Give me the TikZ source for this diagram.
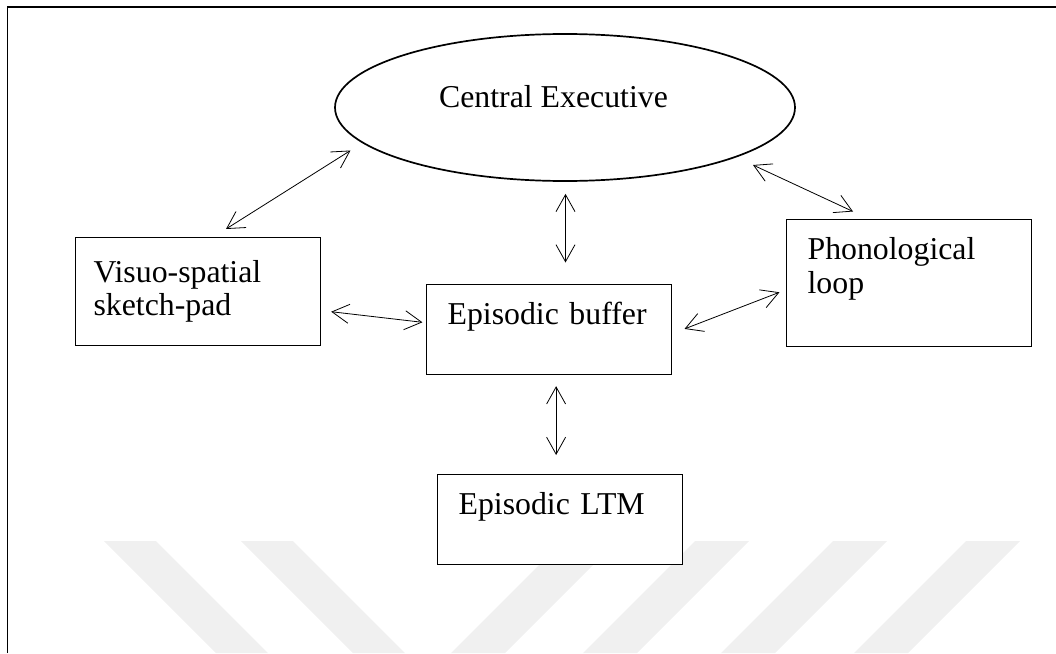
\documentclass[tikz,border=0pt]{standalone}
\usepackage{fontspec}
\setmainfont{Liberation Serif}
\usetikzlibrary{shapes.geometric, arrows.meta, positioning, calc}

\begin{document}
\begin{tikzpicture}[
    x=1pt, y=-1pt,
    font=\fontsize{31.8}{33.5}\selectfont,
    box/.style={rectangle, draw, fill=white, line width=1.2pt, anchor=north west,
                minimum width=245pt, inner xsep=21pt, inner ysep=0pt,
                text width=203pt, align=left, text height=40pt, text depth=50pt},
    exec/.style={ellipse, draw, line width=1.7pt, minimum width=460pt,
                 minimum height=147pt, inner sep=0pt, text height=22pt, text depth=23pt},
    arr/.style={{Straight Barb[length=17pt,width=19pt]}-{Straight Barb[length=17pt,width=19pt]},
                line width=0.8pt},
    wmark/.style={fill=black!6},
]
    \useasboundingbox (0,0) rectangle (1056,653);

    % Watermark
    \begin{scope}
    \clip (0,0) rectangle (1056,653);
    \foreach \t in {104,241}
        \fill[wmark] (\t,541) -- ++(52,0) -- ++(112,112) -- ++(-52,0) -- cycle;
    \foreach \t in {563,695,833,966}
        \fill[wmark] (\t,541) -- ++(54,0) -- ++(-112,112) -- ++(-54,0) -- cycle;
    \end{scope}

    % Frame
    \draw[line width=1.7pt] (7.5,653) -- (7.5,7) -- (1056,7);

    % Components
    \node[exec] (ce) at (565,107.5) {Central Executive\kern23pt};
    \node[box, text height=44.7pt, text depth=63.3pt, inner xsep=18pt, text width=209pt]
        (vsp) at (75,237) {Visuo-spatial\\sketch-pad};
    \node[box] (buf) at (426,284) {Episodic buffer};
    \node[box, text depth=87pt] (phon) at (786,219) {Phonological\\loop};
    \node[box] (ltm) at (437,474) {Episodic LTM};

    % Links
    \draw[arr] ($(vsp.north west)+(151,-8)$) -- ($(ce.center)+(-214.5,43)$);
    \draw[arr] ($(ce.south)+(0.5,12)$) -- ($(ce.south |- buf.north)+(0.5,-21.5)$);
    \draw[arr] ($(vsp.north east)+(10,74.7)$) -- ($(buf.west)+(-3.6,-7.3)$);
    \draw[arr] ($(buf.east)+(12.3,-0.7)$) -- ($(phon.west)+(-6.6,9.2)$);
    \draw[arr] ($(ce.center)+(188,57.5)$) -- ($(phon.north west)+(67,-7.5)$);
    \draw[arr] ($(buf.south)+(7,11)$) -- ($(ltm.north)+(-4,-19)$);

\end{tikzpicture}
\end{document}
